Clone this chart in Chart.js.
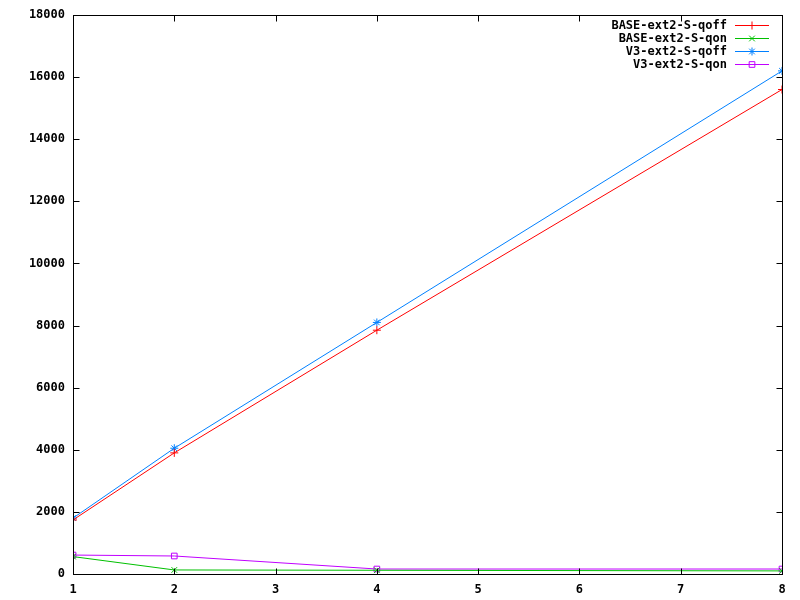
<!DOCTYPE html>
<html>
<head>
<meta charset="utf-8">
<script src="https://cdn.jsdelivr.net/npm/chart.js@4"></script>
<style>
  html, body { margin: 0; padding: 0; background: #fff; }
  #wrap { width: 800px; height: 600px; }
</style>
</head>
<body>
<div id="wrap"><canvas id="chart" width="800" height="600"></canvas></div>
<script>
const xValues = [1, 2, 4, 8];
const baseQoff = [1740, 3900, 7850, 15600];
const baseQon = [560, 130, 120, 100];
const v3Qoff = [1800, 4050, 8100, 16200];
const v3Qon = [610, 580, 160, 160];
const yTicks = [0, 2000, 4000, 6000, 8000, 10000, 12000, 14000, 16000, 18000];

const FONT = { family: '"DejaVu Sans Mono", monospace', size: 12, weight: 'bold' };

function series(label, values, color, style) {
  return {
    label: label,
    data: xValues.map((x, i) => ({ x: x, y: values[i] })),
    borderColor: color,
    backgroundColor: color,
    borderWidth: 1,
    pointStyle: style,
    pointRadius: 4,
    pointHoverRadius: 4,
    pointBorderColor: color,
    pointBackgroundColor: 'rgba(0,0,0,0)',
    pointBorderWidth: 1,
    tension: 0
  };
}

// gnuplot-style frame, inward mirrored ticks and key
const framePlugin = {
  id: 'frame',
  afterDatasetsDraw(chart) {
    const ctx = chart.ctx;
    const a = chart.chartArea;
    const xs = chart.scales.x, ys = chart.scales.y;
    ctx.save();
    ctx.strokeStyle = '#000';
    ctx.lineWidth = 1;
    const l = Math.round(a.left) + 0.5, t = Math.round(a.top) + 0.5;
    const r = Math.round(a.right) + 0.5, b = Math.round(a.bottom) + 0.5;
    ctx.strokeRect(l, t, r - l, b - t);
    ctx.beginPath();
    xs.ticks.forEach(tk => {
      const px = Math.round(xs.getPixelForValue(tk.value)) + 0.5;
      ctx.moveTo(px, b); ctx.lineTo(px, b - 6);
      ctx.moveTo(px, t); ctx.lineTo(px, t + 6);
    });
    ys.ticks.forEach(tk => {
      const py = Math.round(ys.getPixelForValue(tk.value)) + 0.5;
      ctx.moveTo(l, py); ctx.lineTo(l + 6, py);
      ctx.moveTo(r, py); ctx.lineTo(r - 6, py);
    });
    ctx.stroke();

    // key
    ctx.font = 'bold 12px "DejaVu Sans Mono", monospace';
    ctx.textAlign = 'right';
    ctx.textBaseline = 'middle';
    chart.data.datasets.forEach((ds, i) => {
      const y = 25 + i * 13;
      ctx.fillStyle = '#000';
      ctx.fillText(ds.label, 727, y + 1);
      ctx.strokeStyle = ds.borderColor;
      ctx.beginPath();
      ctx.moveTo(735, y + 0.5); ctx.lineTo(769, y + 0.5);
      ctx.stroke();
      ctx.fillStyle = 'rgba(0,0,0,0)';
      Chart.helpers.drawPoint(ctx, {
        pointStyle: ds.pointStyle, radius: 4, rotation: 0, borderWidth: 1
      }, 752, y + 0.5);
    });
    ctx.restore();
  }
};

new Chart(document.getElementById('chart').getContext('2d'), {
  type: 'line',
  data: {
    datasets: [
      series('BASE-ext2-S-qoff', baseQoff, '#ff0000', 'cross'),
      series('BASE-ext2-S-qon', baseQon, '#00c000', 'crossRot'),
      series('V3-ext2-S-qoff', v3Qoff, '#0080ff', 'star'),
      series('V3-ext2-S-qon', v3Qon, '#c000ff', 'rect')
    ]
  },
  options: {
    responsive: false,
    animation: false,
    layout: { padding: { left: 0, top: 15, right: 18, bottom: 0 } },
    plugins: { legend: { display: false }, tooltip: { enabled: false } },
    scales: {
      x: {
        type: 'linear',
        min: 1, max: 8,
        grid: { display: false },
        border: { display: false },
        ticks: { stepSize: 1, color: '#000', font: FONT, padding: 1, maxRotation: 0 },
        afterFit(s) { s.height = 26; }
      },
      y: {
        min: 0, max: 18000,
        grid: { display: false },
        border: { display: false },
        afterBuildTicks(s) { s.ticks = yTicks.map(v => ({ value: v })); },
        ticks: { color: '#000', font: FONT, padding: 0, callback: v => String(v) },
        afterFit(s) { s.width = 73; }
      }
    }
  },
  plugins: [framePlugin]
});
</script>
</body>
</html>
